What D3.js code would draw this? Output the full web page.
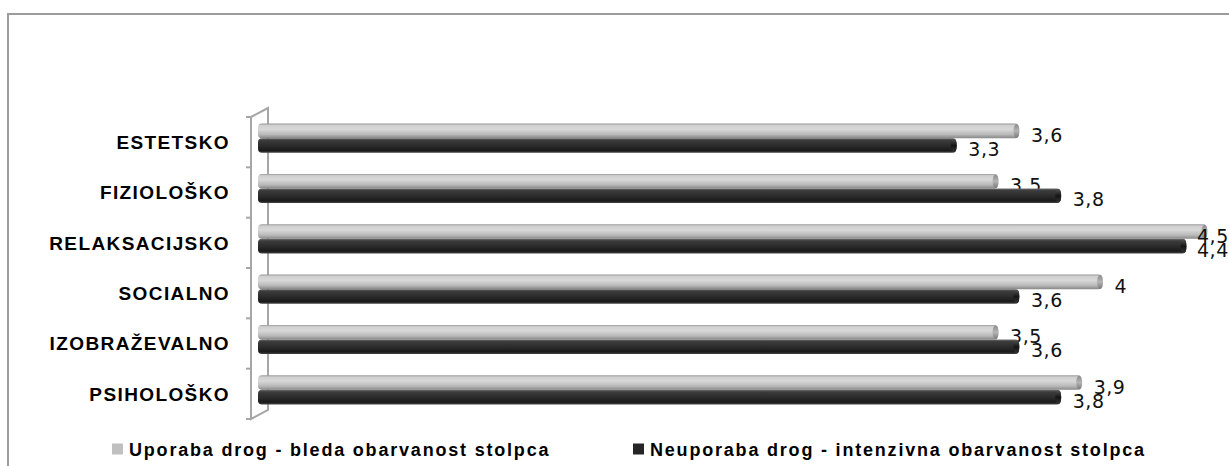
<!DOCTYPE html>
<html>
<head>
<meta charset="utf-8">
<script src="https://cdn.jsdelivr.net/npm/d3@7"></script>
<style>
  html, body { margin: 0; padding: 0; background: #fff; }
  svg { display: block; }
</style>
</head>
<body>
<div id="chart"></div>
<script>
// ---- data ----
const categories = ["ESTETSKO", "FIZIOLOŠKO", "RELAKSACIJSKO", "SOCIALNO", "IZOBRAŽEVALNO", "PSIHOLOŠKO"];
const uporaba   = [3.6, 3.5, 4.5, 4.0, 3.5, 3.9];   // light bars
const neuporaba = [3.3, 3.8, 4.4, 3.6, 3.6, 3.8];   // dark bars
const seriesNames = ["Uporaba drog - bleda obarvanost stolpca", "Neuporaba drog - intenzivna obarvanost stolpca"];

// ---- layout ----
const W = 1229, H = 466;
const svg = d3.select("#chart").append("svg").attr("width", W).attr("height", H);

const defs = svg.append("defs");
function grad(id, stops) {
  const g = defs.append("linearGradient").attr("id", id)
    .attr("x1", 0).attr("y1", 0).attr("x2", 0).attr("y2", 1);
  stops.forEach(s => g.append("stop").attr("offset", s[0]).attr("stop-color", s[1]));
}
grad("gLight", [[0, "#959595"], [0.12, "#cfcfcf"], [0.4, "#d8d8d8"], [0.75, "#b8b8b8"], [1, "#878787"]]);
grad("gDark",  [[0, "#6e6e6e"], [0.14, "#3c3c3c"], [0.5, "#2c2c2c"], [0.85, "#1a1a1a"], [1, "#454545"]]);
grad("gLightCap", [[0, "#8a8a8a"], [0.5, "#b4b4b4"], [1, "#7a7a7a"]]);
grad("gDarkCap",  [[0, "#555"], [0.5, "#151515"], [1, "#333"]]);

// chart border (left + top visible)
svg.append("path")
  .attr("d", `M8,${H} L8,14 L${W},14`)
  .attr("fill", "none").attr("stroke", "#9c9c9c").attr("stroke-width", 2);

// scales
const x = d3.scaleLinear().domain([0, 4.5]).range([267, 1207]);
const pIn = 0.42;
const y = d3.scaleBand().domain(categories).range([117, 419]).paddingInner(pIn).paddingOuter(pIn / 2);
const sub = d3.scaleBand().domain([0, 1]).range([0, y.bandwidth()]);

const depthX = 9;   // front face offset of the bars (3D look)
const depthY = -4;

// 3D wall (axis)
const wallBackX = 268, wallFrontX = 251;
const r0 = y.range()[0], r1 = y.range()[1];
const wall = svg.append("g").attr("stroke", "#a6a6a6").attr("fill", "none").attr("stroke-width", 2);
wall.append("path").attr("d", `M${wallFrontX},${r0} L${wallFrontX},${r1} L${wallBackX},${r1 - 9} L${wallBackX},${r0 - 9} L${wallFrontX},${r0}`);
// ticks at band boundaries
d3.range(categories.length + 1).forEach(i => {
  const yy = r0 + i * y.step();
  wall.append("line").attr("x1", wallFrontX - 5).attr("x2", wallFrontX).attr("y1", yy).attr("y2", yy);
});

// category labels via axis
const yAxis = d3.axisLeft(y).tickSizeInner(0).tickSizeOuter(0).tickPadding(21);
const ga = svg.append("g").attr("transform", `translate(${wallFrontX},0)`).call(yAxis);
ga.select(".domain").remove();
ga.selectAll("text")
  .attr("font-family", "'Liberation Sans', Arial, sans-serif")
  .attr("font-weight", "bold")
  .attr("font-size", 19)
  .attr("letter-spacing", "1.4px")
  .attr("fill", "#000")
  .attr("dy", "0.36em");

const fmt = v => String(v).replace(".", ",");
const labelFont = "'DejaVu Sans', Verdana, sans-serif";

function drawSeries(values, idx, fillId, capId, dyLabel) {
  const g = svg.append("g");
  const bh = sub.bandwidth();
  const yb = (c) => y(c) + sub(idx) + depthY;
  g.selectAll("rect").data(categories).join("rect")
    .attr("x", x(0) - depthX)
    .attr("y", c => yb(c))
    .attr("width", (c, i) => x(values[i]) - (x(0) - depthX))
    .attr("height", bh)
    .attr("rx", 4).attr("ry", 4)
    .attr("fill", `url(#${fillId})`);
  g.selectAll("ellipse").data(categories).join("ellipse")
    .attr("cx", (c, i) => x(values[i]) - 2.5)
    .attr("cy", c => yb(c) + bh / 2)
    .attr("rx", 3).attr("ry", bh / 2 - 0.5)
    .attr("fill", `url(#${capId})`);
  svg.append("g").selectAll("text").data(categories).join("text")
    .attr("x", (c, i) => Math.min(x(values[i]) + 12, 1197))
    .attr("y", c => yb(c) + bh / 2 + dyLabel)
    .attr("font-family", labelFont)
    .attr("font-size", 19)
    .attr("letter-spacing", "0.5px")
    .attr("fill", "#111")
    .text((c, i) => fmt(values[i]));
}
drawSeries(uporaba, 0, "gLight", "gLightCap", 11);
drawSeries(neuporaba, 1, "gDark", "gDarkCap", 10.5);

// legend
const legend = [
  { name: seriesNames[0], color: "#c0c0c0", x: 112 },
  { name: seriesNames[1], color: "#262626", x: 633 }
];
const lg = svg.append("g");
legend.forEach(l => {
  lg.append("rect").attr("x", l.x).attr("y", 443.5).attr("width", 11).attr("height", 11).attr("fill", l.color);
  lg.append("text").attr("x", l.x + 17).attr("y", 455.5)
    .attr("font-family", "'Liberation Sans', Arial, sans-serif")
    .attr("font-weight", "bold").attr("font-size", 18)
    .attr("letter-spacing", "1.8px")
    .attr("fill", "#000")
    .text(l.name);
});
</script>
</body>
</html>
